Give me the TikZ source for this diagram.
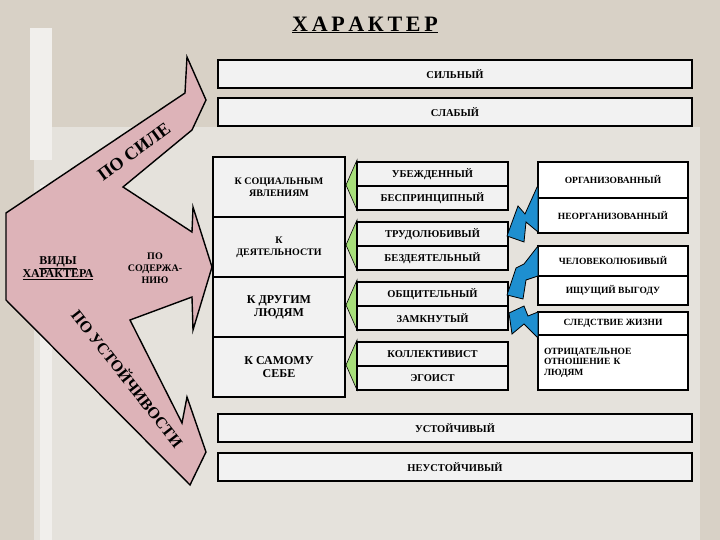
\documentclass[tikz,border=0pt]{standalone}
\usepackage{fontspec}
\setmainfont{Liberation Serif}
\definecolor{bg}{HTML}{D8D1C6}
\definecolor{panel}{HTML}{E5E2DC}
\definecolor{pinkf}{HTML}{DDB3B8}
\definecolor{boltc}{HTML}{1E8FD0}
\definecolor{chevc}{HTML}{A8E07A}
\begin{document}
\begin{tikzpicture}[x=1pt,y=-1pt,
 box/.style={draw=black,line width=1.6pt,fill=gray!10,font=\bfseries\fontsize{10.5}{11}\selectfont,align=center,inner sep=0pt},
 wbox/.style={box,fill=white,font=\bfseries\fontsize{9.5}{10.5}\selectfont},
 lbox/.style={box,font=\bfseries\fontsize{12}{13}\selectfont},
 bolt/.style={fill=boltc,draw=black,line width=0.8pt},
 chev/.style={fill=chevc,draw=black,line width=0.6pt}]
\useasboundingbox (0,0) rectangle (720,540);
\fill[bg] (0,0) rectangle (720,540);
\fill[panel] (34,127) rectangle (700,540);
\fill[white!45!panel] (30,28) rectangle (52,160);
\fill[white!45!panel] (40,185) rectangle (52,540);
\node[font=\bfseries\fontsize{22}{24}\selectfont] (title) at (365,25) {\underline{Х\,А\,Р\,А\,К\,Т\,Е\,Р}};
% pink arrow
\filldraw[fill=pinkf,draw=black,line width=1.4pt]
 (6,213)--(185,93)--(187,57)--(206,100)--(192,130)--(123,187)--(192,232)--(193,207)--(212,267)--(193,330)--(192,297)--(130,320)--(182,423)--(187,397)--(206,452)--(190,485)--(6,300)--cycle;
\node[font=\bfseries\fontsize{18}{20}\selectfont,rotate=36] (posile) at (134,152) {ПО СИЛЕ};
\node[font=\bfseries\fontsize{16}{18}\selectfont,rotate=-52] (poust) at (128,378) {ПО УСТОЙЧИВОСТИ};
\node[font=\bfseries\fontsize{12}{13}\selectfont,align=center] (vidy) at (58,268) {\underline{ВИДЫ}\\\underline{ХАРАКТЕРА}};
\node[font=\bfseries\fontsize{10}{12}\selectfont,align=center] (posod) at (155,268) {ПО\\СОДЕРЖА-\\НИЮ};
% top and bottom bars
\node[box,minimum width=474pt,minimum height=28pt] (silny) at (455,74) {СИЛЬНЫЙ};
\node[box,minimum width=474pt,minimum height=28pt] (slaby) at (455,112) {СЛАБЫЙ};
\node[box,minimum width=474pt,minimum height=28pt] (ust) at (455,428) {УСТОЙЧИВЫЙ};
\node[box,minimum width=474pt,minimum height=28pt] (neust) at (455,467) {НЕУСТОЙЧИВЫЙ};
% left column
\node[box,font=\bfseries\fontsize{10}{12}\selectfont,minimum width=132pt,minimum height=60pt] (soc) at (279,187) {К СОЦИАЛЬНЫМ\\ЯВЛЕНИЯМ};
\node[box,font=\bfseries\fontsize{10}{12}\selectfont,minimum width=132pt,minimum height=60pt] (dey) at (279,247) {К\\ДЕЯТЕЛЬНОСТИ};
\node[lbox,minimum width=132pt,minimum height=60pt] (dr) at (279,307) {К ДРУГИМ\\ЛЮДЯМ};
\node[lbox,minimum width=132pt,minimum height=60pt] (sam) at (279,367) {К САМОМУ\\СЕБЕ};
% green chevrons
\foreach \t in {160,220,280,340}{
 \filldraw[chev] (357,\t)--(346,\t+25)--(357,\t+50)--cycle;}
% middle column
\node[box,minimum width=151pt,minimum height=24pt] (ub) at (432.5,174) {УБЕЖДЕННЫЙ};
\node[box,minimum width=151pt,minimum height=24pt] (bes) at (432.5,198) {БЕСПРИНЦИПНЫЙ};
\node[box,minimum width=151pt,minimum height=24pt] (tr) at (432.5,234) {ТРУДОЛЮБИВЫЙ};
\node[box,minimum width=151pt,minimum height=24pt] (bez) at (432.5,258) {БЕЗДЕЯТЕЛЬНЫЙ};
\node[box,minimum width=151pt,minimum height=24pt] (ob) at (432.5,294) {ОБЩИТЕЛЬНЫЙ};
\node[box,minimum width=151pt,minimum height=24pt] (zam) at (432.5,318) {ЗАМКНУТЫЙ};
\node[box,minimum width=151pt,minimum height=24pt] (kol) at (432.5,354) {КОЛЛЕКТИВИСТ};
\node[box,minimum width=151pt,minimum height=24pt] (eg) at (432.5,378) {ЭГОИСТ};
% right column
\node[wbox,minimum width=150pt,minimum height=36pt] (org) at (613,180) {ОРГАНИЗОВАННЫЙ};
\node[wbox,minimum width=150pt,minimum height=35pt] (neorg) at (613,215.5) {НЕОРГАНИЗОВАННЫЙ};
\node[wbox,minimum width=150pt,minimum height=30pt] (chel) at (613,261) {ЧЕЛОВЕКОЛЮБИВЫЙ};
\node[wbox,minimum width=150pt,minimum height=29pt] (ish) at (613,290.5) {ИЩУЩИЙ ВЫГОДУ};
\node[wbox,minimum width=150pt,minimum height=23pt] (sled) at (613,323.5) {СЛЕДСТВИЕ ЖИЗНИ};
\node[wbox,minimum width=150pt,minimum height=55pt,align=left,text width=138pt] (otr) at (613,362.5) {ОТРИЦАТЕЛЬНОЕ\\ОТНОШЕНИЕ К\\ЛЮДЯМ};
% blue bolts
\filldraw[bolt] (538,185)--(538,232)--(526,222)--(524,242)--(507,236)--(518,206)--(525,214)--cycle;
\filldraw[bolt] (538,246)--(538,276)--(526,280)--(523,299)--(507,295)--(516,268)--(524,264)--cycle;
\filldraw[bolt] (538,312)--(538,338)--(524,324)--(512,334)--(509,313)--(524,306)--(528,316)--cycle;
\end{tikzpicture}
\end{document}
